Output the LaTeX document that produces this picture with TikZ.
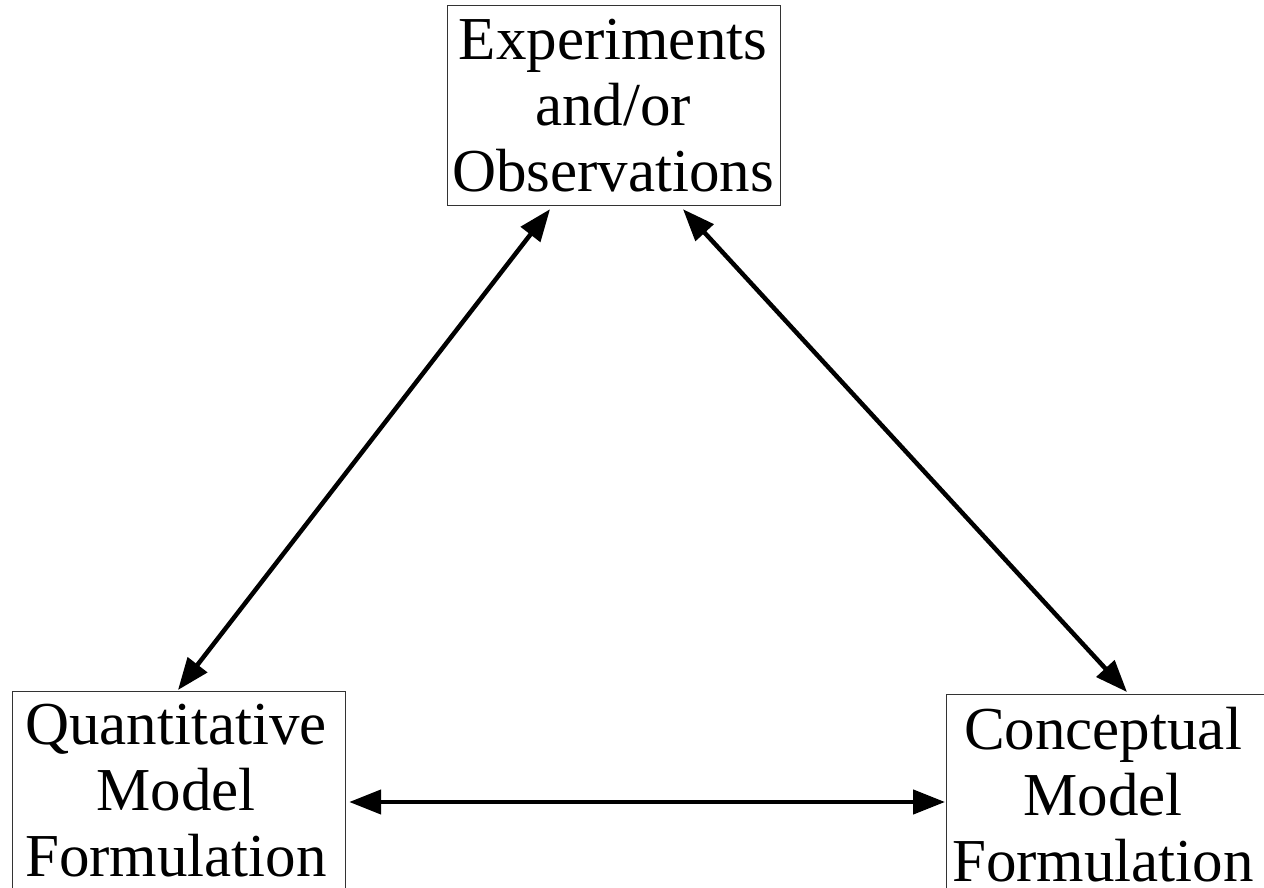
\documentclass[tikz,border=0pt]{standalone}
\usepackage{fontspec}
\setmainfont{Liberation Serif}
\usetikzlibrary{arrows.meta,calc}
\begin{document}
\begin{tikzpicture}[x=1pt,y=1pt,
  boxnode/.style={draw=black!80,line width=1.2pt,inner sep=0pt,anchor=north west,minimum width=333pt},
  labeltext/.style={inner sep=0pt,anchor=north,align=center,font=\fontsize{61}{66}\selectfont},
  link/.style={line width=4.5pt,{Triangle[length=32pt,width=24pt]}-{Triangle[length=32pt,width=24pt]},shorten <=0pt,shorten >=0pt}]
\useasboundingbox (0,0) rectangle (1264,-888);
\node[boxnode,minimum height=200pt] (T) at (447,-5) {};
\node[boxnode,minimum height=210pt] (L) at (12,-691) {};
\node[boxnode,minimum height=210pt,minimum width=330pt] (R) at (946,-694) {};
\node[labeltext] (TT) at (613,-19) {Experiments\\and/or\\Observations};
\node[labeltext] (LT) at (176,-704) {Quantitative\\Model\\Formulation};
\node[labeltext] (RT) at (1103,-707) {Conceptual\\Model\\Formulation};
\draw[link] ($(T.south west)+(103,-3)$) -- ($(L.north west)+(166,1)$);
\draw[link] ($(T.south west)+(236,-3)$) -- ($(R.north west)+(181,2)$);
\draw[link] ($(L.north east)+(3,-111)$) -- ($(R.north west)+(-1,-108)$);
\end{tikzpicture}
\end{document}
